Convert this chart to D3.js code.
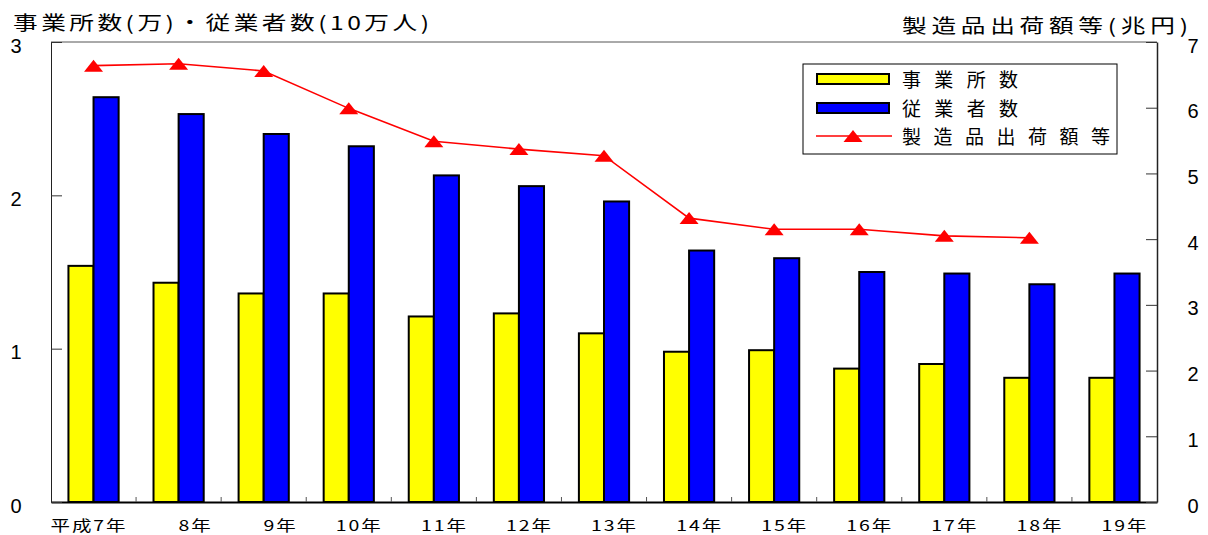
<!DOCTYPE html>
<html>
<head>
<meta charset="utf-8">
<script src="https://cdn.jsdelivr.net/npm/d3@7"></script>
<style>
body { margin: 0; background: #fff; }
text { font-family: "Liberation Sans", "Noto Sans CJK JP", sans-serif; fill: #000; }
.jp { font-family: "Noto Sans CJK JP", sans-serif; }
</style>
</head>
<body>
<svg id="chart" width="1208" height="535"></svg>
<script>
var years = ["平成7年", "8年", "9年", "10年", "11年", "12年", "13年", "14年", "15年", "16年", "17年", "18年", "19年"]
var offices = [1.54, 1.43, 1.36, 1.36, 1.21, 1.23, 1.10, 0.98, 0.99, 0.87, 0.90, 0.81, 0.81]      // 万
var workers = [2.64, 2.53, 2.40, 2.32, 2.13, 2.06, 1.96, 1.64, 1.59, 1.50, 1.49, 1.42, 1.49]      // 10万人
var shipments = [6.64, 6.67, 6.56, 5.99, 5.49, 5.37, 5.27, 4.32, 4.15, 4.15, 4.05, 4.02, null] // 兆円
var leftTicks = [0, 1, 2, 3]
var rightTicks = [0, 1, 2, 3, 4, 5, 6, 7]
var seriesNames = ["事業所数", "従業者数", "製造品出荷額等"]
var leftTitle = "事業所数(万)・従業者数(10万人)"
var rightTitle = "製造品出荷額等(兆円)"

var colors = ["#FFFF00", "#0000FF", "#FF0000"]
var box = {left: 51, right: 1157, top: 42, bottom: 502}
var stretch = 1.3   // the source renders its labels wide
var svg = d3.select("#chart")

var x = d3.scaleBand().domain(years).range([box.left, box.right]).paddingInner(0.41).paddingOuter(0.205)
var sub = d3.scaleBand().domain([0, 1]).range([0, x.bandwidth()])
var yL = d3.scaleLinear().domain([0, 3]).range([box.bottom, box.top])
var yR = d3.scaleLinear().domain([0, 7]).range([box.bottom, box.top])

drawFrame()
drawBars()
drawLine()
drawAxes()
drawLegend()
drawTitles()

function drawFrame() {
    svg.append("line")
        .attr("x1", box.left).attr("x2", box.right)
        .attr("y1", box.top).attr("y2", box.top)
        .attr("stroke", "#555").attr("stroke-width", 1)
}

function drawBars() {
    var series = [offices, workers]
    series.forEach(function (values, s) {
        svg.append("g").selectAll("rect")
            .data(values)
            .enter()
            .append("rect")
            .attr("x", function (d, i) { return x(years[i]) + sub(s) })
            .attr("y", function (d) { return yL(d) })
            .attr("width", sub.bandwidth())
            .attr("height", function (d) { return yL(0) - yL(d) })
            .attr("fill", colors[s])
            .attr("stroke", "#000")
            .attr("stroke-width", 2)
    })
}

function triangle(w, h) {
    return "M0," + (-h / 2) + "L" + (w / 2) + "," + (h / 2) + "L" + (-w / 2) + "," + (h / 2) + "Z"
}

function drawLine() {
    var cx = function (d, i) { return x(years[i]) + x.bandwidth() / 2 }
    var line = d3.line()
        .defined(function (d) { return d != null })
        .x(cx)
        .y(function (d) { return yR(d) })

    svg.append("path")
        .datum(shipments)
        .attr("d", line)
        .attr("fill", "none")
        .attr("stroke", colors[2])
        .attr("stroke-width", 1.6)

    var pts = shipments.map(function (d, i) { return {v: d, i: i} })
        .filter(function (p) { return p.v != null })
    svg.append("g").selectAll("path")
        .data(pts)
        .enter()
        .append("path")
        .attr("d", triangle(19, 12))
        .attr("transform", function (p) {
            return "translate(" + cx(p.v, p.i) + "," + yR(p.v) + ")"
        })
        .attr("fill", colors[2])
}

function drawAxes() {
    var step = x.step()
    var gx = svg.append("g")
        .attr("transform", "translate(0," + box.bottom + ")")
        .call(d3.axisBottom(x).tickSize(0).tickSizeOuter(0).tickPadding(18))
    gx.select(".domain").attr("stroke", "#000").attr("stroke-width", 2)
    gx.selectAll("text")
        .attr("class", "jp")
        .attr("text-anchor", "end")
        .attr("x", 34 / stretch)
        .attr("transform", "scale(" + stretch + ",1)")
        .style("font-size", "15px")
        .style("letter-spacing", "1.5px")

    // category separators
    svg.append("g").selectAll("line")
        .data(years.slice(1))
        .enter()
        .append("line")
        .attr("x1", function (d) { return x(d) - step * x.paddingInner() / 2 })
        .attr("x2", function (d) { return x(d) - step * x.paddingInner() / 2 })
        .attr("y1", box.bottom)
        .attr("y2", box.bottom - 5)
        .attr("stroke", "#555")

    var gl = svg.append("g")
        .attr("transform", "translate(" + box.left + ",0)")
        .call(d3.axisLeft(yL).tickValues(leftTicks).tickSize(-11).tickSizeOuter(0).tickFormat(d3.format("d")))
    gl.select(".domain").attr("stroke", "#222")
    gl.selectAll(".tick line").attr("stroke", "#333")
    gl.selectAll("text")
        .attr("x", -35)
        .attr("dy", "0.5em")
        .attr("text-anchor", "middle")
        .style("font-size", "20px")

    var gr = svg.append("g")
        .attr("transform", "translate(" + box.right + ",0)")
        .call(d3.axisRight(yR).tickValues(rightTicks).tickSize(-11).tickSizeOuter(0).tickFormat(d3.format("d")))
    gr.select(".domain").attr("stroke", "#222").attr("stroke-width", 1.5)
    gr.selectAll(".tick line").attr("stroke", "#333")
    gr.selectAll("text")
        .attr("x", 36)
        .attr("dy", "0.5em")
        .attr("text-anchor", "middle")
        .style("font-size", "20px")
}

function drawLegend() {
    var g = svg.append("g").attr("transform", "translate(803,64)")
    g.append("rect")
        .attr("width", 314).attr("height", 90)
        .attr("fill", "#fff").attr("stroke", "#000").attr("stroke-width", 1)

    var rows = [15, 44, 72]
    var widths = [116, 116, 208]
    seriesNames.forEach(function (name, i) {
        if (i < 2) {
            g.append("rect")
                .attr("x", 14).attr("y", rows[i] - 5)
                .attr("width", 72).attr("height", 10)
                .attr("fill", colors[i]).attr("stroke", "#000").attr("stroke-width", 2)
        } else {
            g.append("line")
                .attr("x1", 13).attr("x2", 89)
                .attr("y1", rows[i]).attr("y2", rows[i])
                .attr("stroke", colors[i]).attr("stroke-width", 1.6)
            g.append("path")
                .attr("d", triangle(19, 12))
                .attr("transform", "translate(50," + rows[i] + ")")
                .attr("fill", colors[i])
        }
        g.append("text")
            .attr("class", "jp")
            .attr("x", 99)
            .attr("y", rows[i] + 8)
            .attr("textLength", widths[i])
            .attr("lengthAdjust", "spacing")
            .style("font-size", "19px")
            .text(name)
    })
}

function wideText(x0, y0, str, width) {
    svg.append("text")
        .attr("class", "jp")
        .attr("transform", "translate(" + x0 + "," + y0 + ") scale(" + stretch + ",1)")
        .attr("textLength", width / stretch)
        .attr("lengthAdjust", "spacing")
        .style("font-size", "19px")
        .text(str)
}

function drawTitles() {
    wideText(13, 30, leftTitle, 416)
    wideText(902, 33, rightTitle, 286)
}
</script>
</body>
</html>
